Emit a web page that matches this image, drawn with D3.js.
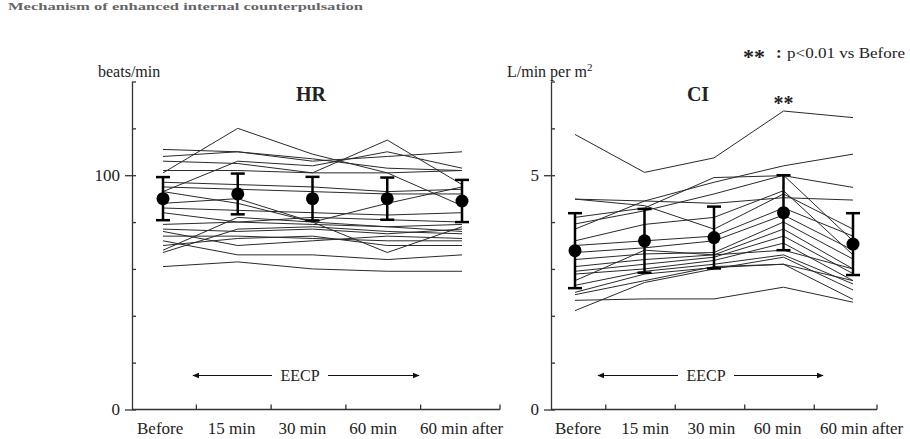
<!DOCTYPE html>
<html>
<head>
<meta charset="utf-8">
<script src="https://cdn.jsdelivr.net/npm/d3@7"></script>
<style>
  body { margin: 0; background: #fff; }
  svg text { font-family: 'Liberation Serif', 'DejaVu Serif', serif; fill: #222; }
</style>
</head>
<body>
<div id="chart"></div>
<script>
const timepoints = ['Before', '15 min', '30 min', '60 min', '60 min after'];

// heart rate, one row per patient (beats/min)
const hrSubjects = [
  [101, 120, 109, 101, 87],
  [111, 110, 106, 108, 110],
  [108, 110, 107, 103, 102],
  [106, 105, 101, 115, 96],
  [93, 106, 104, 110, 103],
  [102, 102, 101, 101, 102],
  [97, 96, 95, 93, 94],
  [95, 94, 93, 92, 92],
  [93, 88, 80, 88, 95],
  [88, 90, 80, 67, 78],
  [86, 85, 84, 83, 84],
  [84, 80, 82, 81, 80],
  [79, 80, 79, 78, 79],
  [77, 76, 77, 75, 77],
  [68, 82, 80, 78, 76],
  [67, 77, 78, 76, 75],
  [76, 70, 72, 74, 73],
  [72, 66, 66, 64, 66],
  [61, 63, 60, 59, 59],
  [74, 74, 73, 72, 72],
  [70, 73, 74, 70, 70]
];
const hrMean = [90, 92, 90, 90, 89];
const hrSD = [9.2, 8.7, 9.3, 9, 9];

// cardiac index, one row per patient (L/min per m2)
const ciSubjects = [
  [5.87, 5.06, 5.37, 6.37, 6.23],
  [3.85, 4.45, 4.85, 5.2, 5.45],
  [4.1, 4.3, 4.95, 4.99, 4.74],
  [4.49, 4.45, 4.4, 4.52, 4.47],
  [4.49, 4.35, 3.85, 4.6, 3.85],
  [3.96, 4.24, 4.6, 5.0, 3.6],
  [3.6, 3.95, 4.1, 4.67, 3.3],
  [3.5, 3.6, 3.7, 4.3, 3.7],
  [3.35, 3.45, 3.6, 4.15, 3.4],
  [3.2, 3.32, 3.35, 4.0, 3.21],
  [3.05, 3.2, 3.3, 3.85, 3.0],
  [2.95, 3.1, 3.25, 3.7, 2.9],
  [2.89, 3.0, 3.18, 3.55, 2.75],
  [2.75, 3.4, 3.3, 3.4, 3.0],
  [2.65, 2.95, 3.1, 3.3, 2.68],
  [2.5, 2.89, 3.03, 3.1, 2.75],
  [2.45, 2.75, 3.05, 3.1, 2.35],
  [2.11, 2.71, 3.0, 3.25, 2.55],
  [2.33, 2.36, 2.36, 2.61, 2.29]
];
const ciMean = [3.39, 3.60, 3.67, 4.20, 3.53];
const ciSD = [0.8, 0.68, 0.66, 0.8, 0.66];

const hrTicks = [0, 20, 40, 60, 80, 100, 120, 140];
const hrLabeled = [0, 100];
const ciTicks = [0, 1, 2, 3, 4, 5, 6, 7];
const ciLabeled = [0, 5];

const width = 910;
const height = 439;
const baseY = 409.5;
const topY = 81.5;

let svg = d3.select('#chart').append('svg')
  .attr('width', width)
  .attr('height', height);

svg.append('defs').append('marker')
  .attr('id', 'arrow')
  .attr('viewBox', '0 0 10 10')
  .attr('refX', 9)
  .attr('refY', 5)
  .attr('markerWidth', 7)
  .attr('markerHeight', 7)
  .attr('orient', 'auto-start-reverse')
  .append('path')
    .attr('d', 'M0,1 L10,5 L0,9 Z')
    .attr('fill', '#111');

// figure caption at the top edge
svg.append('text')
  .attr('x', 8)
  .attr('y', 10)
  .attr('font-size', 11)
  .attr('font-weight', 'bold')
  .attr('textLength', 355)
  .attr('lengthAdjust', 'spacingAndGlyphs')
  .style('fill', '#666')
  .text('Mechanism of enhanced internal counterpulsation');

svg.append('text')
  .attr('x', 743)
  .attr('y', 64)
  .attr('font-size', 22)
  .attr('font-weight', 'bold')
  .text('**');

svg.append('text')
  .attr('x', 776)
  .attr('y', 58)
  .attr('font-size', 17)
  .attr('font-weight', 'bold')
  .text(':');

svg.append('text')
  .attr('x', 787)
  .attr('y', 58)
  .attr('font-size', 15)
  .attr('textLength', 118)
  .attr('lengthAdjust', 'spacingAndGlyphs')
  .text('p<0.01 vs Before');

function drawPanel(cfg, subjects, mean, sd) {
  let x = d3.scalePoint()
    .domain(timepoints)
    .range(cfg.pointRange);

  let y = d3.scaleLinear()
    .domain([0, cfg.ticks[cfg.ticks.length - 1]])
    .range([baseY, topY]);

  let labelX = d3.scalePoint()
    .domain(timepoints)
    .range(cfg.labelRange);

  let g = svg.append('g');

  // y axis
  let yAxis = g.append('g')
    .attr('transform', 'translate(' + cfg.axisX + ',0)')
    .call(d3.axisLeft(y)
      .tickValues(cfg.ticks)
      .tickSizeInner(-4)
      .tickSizeOuter(0)
      .tickPadding(12)
      .tickFormat(function(d) {
        return cfg.labeled.includes(d) ? d : '';
      }));
  yAxis.selectAll('path, line').attr('stroke', '#333').attr('stroke-width', 1.3);
  yAxis.selectAll('text')
    .attr('font-size', 17)
    .attr('font-family', null)
    .style('fill', '#222');
  yAxis.selectAll('.tick')
    .filter(function(d) { return cfg.labeled.includes(d); })
    .append('line')
      .attr('x2', -7)
      .attr('stroke', '#333')
      .attr('stroke-width', 1.3);

  // x axis
  g.append('line')
    .attr('x1', cfg.axisX)
    .attr('x2', cfg.axisEnd)
    .attr('y1', baseY)
    .attr('y2', baseY)
    .attr('stroke', '#333')
    .attr('stroke-width', 1.3);

  let tickPos = timepoints.map(function(c, i) {
    if (i < timepoints.length - 1) {
      return (x(c) + x(timepoints[i + 1])) / 2 - 4;
    }
    return cfg.axisEnd;
  });

  g.selectAll('.xtick')
    .data(tickPos).enter()
      .append('line')
        .attr('class', 'xtick')
        .attr('x1', function(d) { return d; })
        .attr('x2', function(d) { return d; })
        .attr('y1', baseY)
        .attr('y2', baseY - 5)
        .attr('stroke', '#333')
        .attr('stroke-width', 1.3);

  g.selectAll('.xlabel')
    .data(timepoints).enter()
      .append('text')
        .attr('class', 'xlabel')
        .attr('x', function(d) { return labelX(d); })
        .attr('y', baseY + 24)
        .attr('font-size', 17)
        .text(function(d) { return d; });

  // individual patients
  let line = d3.line()
    .x(function(d, i) { return x(timepoints[i]); })
    .y(function(d) { return y(d); });

  g.selectAll('.subject')
    .data(subjects).enter()
      .append('path')
        .attr('class', 'subject')
        .attr('d', line)
        .attr('fill', 'none')
        .attr('stroke', '#2a2a2a')
        .attr('stroke-width', 1);

  // mean +/- SD
  let stats = timepoints.map(function(c, i) {
    return { t: c, m: mean[i], s: sd[i] };
  });

  let bars = g.selectAll('.stat')
    .data(stats).enter()
      .append('g')
        .attr('class', 'stat');

  bars.append('line')
    .attr('x1', function(d) { return x(d.t); })
    .attr('x2', function(d) { return x(d.t); })
    .attr('y1', function(d) { return y(d.m - d.s); })
    .attr('y2', function(d) { return y(d.m + d.s); })
    .attr('stroke', '#000')
    .attr('stroke-width', 2.5);

  [-1, 1].forEach(function(sign) {
    bars.append('line')
      .attr('x1', function(d) { return x(d.t) - 7; })
      .attr('x2', function(d) { return x(d.t) + 7; })
      .attr('y1', function(d) { return y(d.m + sign * d.s); })
      .attr('y2', function(d) { return y(d.m + sign * d.s); })
      .attr('stroke', '#000')
      .attr('stroke-width', 2.5);
  });

  bars.append('circle')
    .attr('cx', function(d) { return x(d.t); })
    .attr('cy', function(d) { return y(d.m); })
    .attr('r', 6.5)
    .attr('fill', '#000');

  // titles
  g.append('text')
    .attr('x', cfg.titleX)
    .attr('y', 101)
    .attr('text-anchor', 'middle')
    .attr('font-size', 20)
    .attr('font-weight', 'bold')
    .text(cfg.title);

  let unit = g.append('text')
    .attr('x', cfg.unitX)
    .attr('y', 77)
    .attr('font-size', 16)
    .text(cfg.unit);
  if (cfg.unitSup) {
    unit.append('tspan')
      .attr('dy', -6)
      .attr('font-size', 11)
      .text(cfg.unitSup);
  }

  // EECP period arrow
  let ay = 375.5;
  g.append('line')
    .attr('x1', cfg.eecp[0])
    .attr('x2', cfg.eecpText - 28)
    .attr('y1', ay)
    .attr('y2', ay)
    .attr('stroke', '#111')
    .attr('marker-start', 'url(#arrow)');
  g.append('line')
    .attr('x1', cfg.eecpText + 28)
    .attr('x2', cfg.eecp[1])
    .attr('y1', ay)
    .attr('y2', ay)
    .attr('stroke', '#111')
    .attr('marker-end', 'url(#arrow)');
  g.append('text')
    .attr('x', cfg.eecpText)
    .attr('y', ay + 5.5)
    .attr('text-anchor', 'middle')
    .attr('font-size', 16)
    .text('EECP');

  return { x: x, y: y };
}

drawPanel({
  axisX: 132,
  axisEnd: 500,
  pointRange: [163, 462],
  labelRange: [137, 420],
  ticks: hrTicks,
  labeled: hrLabeled,
  title: 'HR',
  titleX: 311,
  unit: 'beats/min',
  unitX: 98,
  eecp: [193, 419],
  eecpText: 300
}, hrSubjects, hrMean, hrSD);

let ci = drawPanel({
  axisX: 551,
  axisEnd: 877,
  pointRange: [575, 853],
  labelRange: [555, 820],
  ticks: ciTicks,
  labeled: ciLabeled,
  title: 'CI',
  titleX: 698,
  unit: 'L/min per m',
  unitSup: '2',
  unitX: 507,
  eecp: [598, 823],
  eecpText: 706
}, ciSubjects, ciMean, ciSD);

// significance mark over the 60 min CI value
svg.append('text')
  .attr('x', ci.x('60 min'))
  .attr('y', 110)
  .attr('text-anchor', 'middle')
  .attr('font-size', 20)
  .attr('font-weight', 'bold')
  .text('**');
</script>
</body>
</html>
